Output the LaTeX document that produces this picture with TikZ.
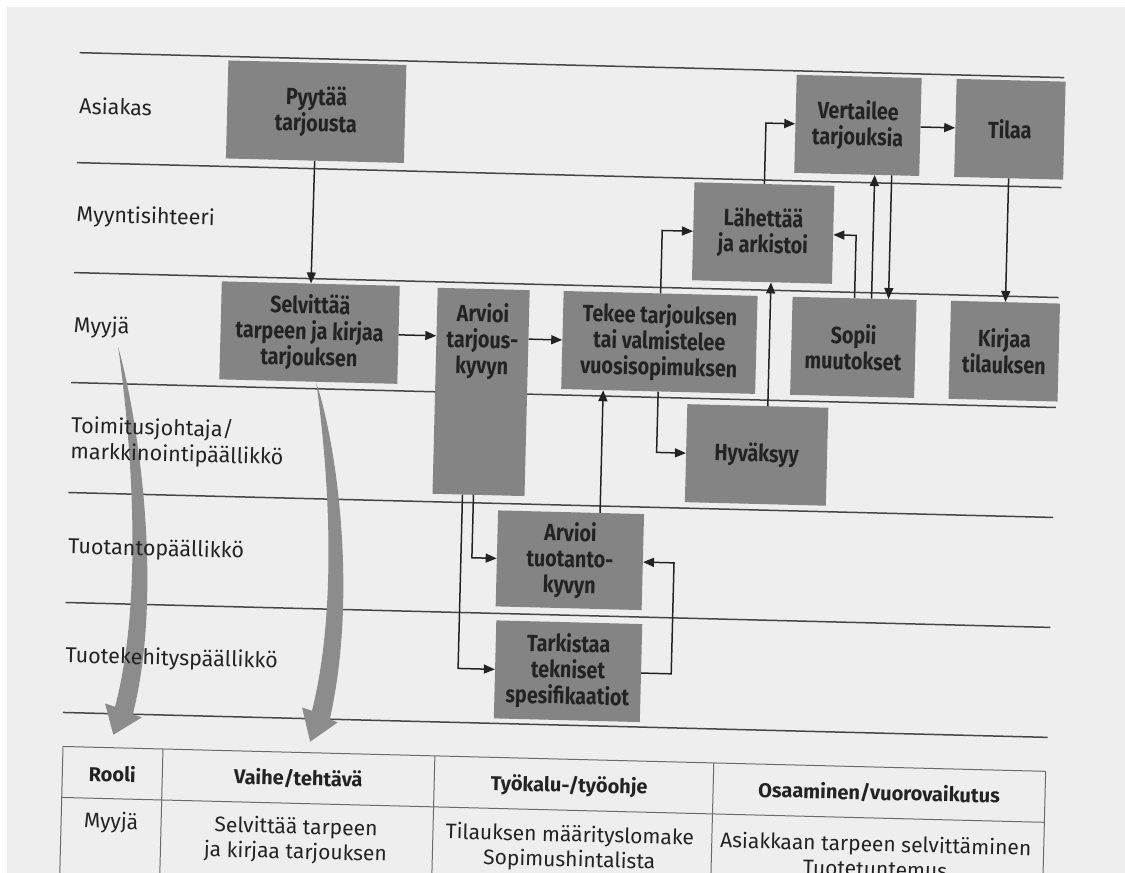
\documentclass[tikz,border=0pt]{standalone}
\usepackage{fontspec}
\setmainfont{Fira Sans}
\newfontfamily\boxfont{Fira Sans}[FakeStretch=0.84]
\usetikzlibrary{arrows.meta}
\definecolor{pagegray}{RGB}{238,238,238}
\definecolor{boxgray}{RGB}{132,132,132}
\definecolor{inkgray}{RGB}{35,35,35}
\definecolor{rulegray}{RGB}{70,70,70}
\definecolor{swooshgray}{RGB}{140,140,140}

\begin{document}
\begin{tikzpicture}[x=1pt,y=-1pt,
    lane/.style={draw=rulegray,line width=1.5pt},
    task/.style={rectangle,fill=boxgray,text=inkgray,align=center,inner sep=0pt,
                 minimum height=98pt,font=\boxfont\bfseries\fontsize{23.5}{26}\selectfont},
    role/.style={anchor=west,align=left,inner sep=0pt,text=inkgray,
                 font=\fontsize{21.5}{26}\selectfont},
    flow/.style={-{Triangle[length=11pt,width=9pt]},draw=inkgray,line width=1.5pt},
    swoosh/.style={fill=swooshgray},
    tabrule/.style={draw=rulegray!80,line width=1pt},
    tabcell/.style={text=inkgray,align=center,inner sep=0pt,font=\fontsize{21}{25}\selectfont},
    tabhead/.style={tabcell,font=\bfseries\fontsize{20}{25}\selectfont}
]
    \useasboundingbox (0,0) rectangle (1125,873);
    \clip (0,0) rectangle (1125,873);
    \fill[white] (0,0) rectangle (1125,873);
    \fill[pagegray] (7,7) rectangle (1125,873);

    \begin{scope}[rotate around={-1.45:(562,436)},transform shape]
    % swimlanes
    \foreach \y in {65,175,285,395,505,615,725}
        \draw[lane] (70,\y) -- (1055,\y);

    % the two big arrows down to the table
    \fill[swoosh] (116,358) .. controls (138,430) and (168,600) .. (140,725)
        -- (149,728) -- (121,746) -- (112,715) -- (122,718)
        .. controls (150,600) and (128,430) .. (116,358) -- cycle;
    \fill[swoosh] (315,389) .. controls (337,450) and (362,600) .. (337,725)
        -- (345,728) -- (318,748) -- (309,714) -- (319,717)
        .. controls (345,600) and (325,450) .. (315,389) -- cycle;

    % roles
    \node[role] (asiakas) at (71,118) {Asiakas};
    \node[role] (sihteeri) at (71,228) {Myyntisihteeri};
    \node[role] (myyja) at (71,339) {Myyjä};
    \node[role] (johtaja) at (71,452) {Toimitusjohtaja/\\markkinointipäällikkö};
    \node[role] (tuotpaal) at (71,560) {Tuotantopäällikkö};
    \node[role] (tuotekeh) at (71,669) {Tuotekehityspäällikkö};

    % tasks
    \node[task,minimum width=178pt] (pyyda) at (308,118) {Pyytää\\tarjousta};
    \node[task,minimum width=178pt] (selvita) at (307,339) {Selvittää\\tarpeen ja kirjaa\\tarjouksen};
    \node[task,minimum width=92pt,minimum height=206pt,
          label={[task,fill=none,minimum height=0pt,anchor=north,yshift=-14pt]north:{Arvioi\\tarjous-\\kyvyn}}]
          (arvioi) at (480,394) {};
    \node[task,minimum width=194pt] (tekee) at (657,340) {Tekee tarjouksen\\tai valmistelee\\vuosisopimuksen};
    \node[task,minimum width=141pt] (hyvaksyy) at (757,450) {Hyväksyy};
    \node[task,minimum width=140pt] (lahettaa) at (758,228) {Lähettää\\ja arkistoi};
    \node[task,minimum width=125pt] (vertailee) at (850,118) {Vertailee\\tarjouksia};
    \node[task,minimum width=109pt] (tilaa) at (1002,118) {Tilaa};
    \node[task,minimum width=124pt] (sopii) at (851,340) {Sopii\\muutokset};
    \node[task,minimum width=109pt] (kirjaa) at (1002,340) {Kirjaa\\tilauksen};
    \node[task,minimum width=146pt,minimum height=96pt] (tuotkyky) at (573,560) {Arvioi\\tuotanto-\\kyvyn};
    \node[task,minimum width=146pt] (tarkista) at (574,671) {Tarkistaa\\tekniset\\spesifikaatiot};

    % flows
    \draw[flow] (pyyda) -- (selvita);
    \draw[flow] (selvita.east) -- (selvita.east -| arvioi.west);
    \draw[flow] (arvioi.east |- tekee) -- (tekee.west);
    \draw[flow] ([xshift=-5pt]arvioi.south) |- (tuotkyky.west);
    \draw[flow] ([xshift=-16pt]arvioi.south) |- (tarkista.west);
    \draw[flow] (tarkista.east) -- ++(30,0) |- (tuotkyky.east);
    \draw[flow] ([xshift=29pt]tuotkyky.north) -- ([xshift=29pt]tuotkyky.north |- tekee.south);
    \draw[flow] (tekee.south) |- (hyvaksyy.west);
    \draw[flow] ([xshift=10pt]hyvaksyy.north) -- ([xshift=10pt]hyvaksyy.north |- lahettaa.south);
    \draw[flow] (tekee.north) |- (lahettaa.west);
    \draw[flow] (lahettaa.north) |- (vertailee.west);
    \draw[flow] (sopii.north) |- (lahettaa.east);
    \draw[flow] ([xshift=17pt]sopii.north) -- ([xshift=17pt]sopii.north |- vertailee.south);
    \draw[flow] ([xshift=35pt]vertailee.south) -- ([xshift=35pt]vertailee.south |- sopii.north);
    \draw[flow] (vertailee) -- (tilaa);
    \draw[flow] (tilaa) -- (kirjaa);

    % table
    \draw[tabrule] (71,759) -- (1054,759);
    \draw[tabrule] (71,810) -- (1054,810);
    \foreach \x in {71,171,443,722,1054}
        \draw[tabrule] (\x,759) -- (\x,900);
    \node[tabhead] (hrooli) at (121,785) {Rooli};
    \node[tabhead] (hvaihe) at (307,785) {Vaihe/tehtävä};
    \node[tabhead] (htyokalu) at (578,786) {Työkalu-/työohje};
    \node[tabhead] (hosaam) at (888,785) {Osaaminen/vuorovaikutus};
    \node[tabcell] (crooli) at (121,834) {Myyjä};
    \node[tabcell] (cvaihe) at (306,847) {Selvittää tarpeen\\ja kirjaa tarjouksen};
    \node[tabcell] (ctyokalu) at (580,848) {Tilauksen määrityslomake\\Sopimushintalista};
    \node[tabcell] (cosaam) at (886,848) {Asiakkaan tarpeen selvittäminen\\Tuotetuntemus};
    \end{scope}
\end{tikzpicture}
\end{document}
